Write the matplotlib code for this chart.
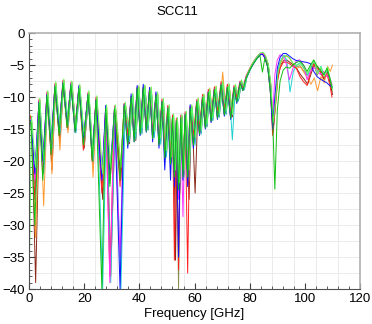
import matplotlib
matplotlib.use("Agg")
import matplotlib.pyplot as plt
from matplotlib.ticker import MultipleLocator

title = "SCC11"
xlabel = "Frequency [GHz]"
xticks = [0, 20, 40, 60, 80, 100, 120]
yticks = [0, -5, -10, -15, -20, -25, -30, -35, -40]

# frequency grid A
freq = [0.0, 0.7, 2.1, 3.6, 5.0, 6.5, 8.0, 9.4, 10.9, 12.3,
        13.8, 15.2, 16.7, 18.1, 19.7, 21.4, 22.9, 24.3, 26.4, 27.8,
        29.3, 31.0, 33.0, 34.5, 35.8, 37.0, 38.1, 39.2, 40.3, 41.4,
        42.5, 43.7, 44.8, 46.0, 47.1, 48.2, 49.2, 50.3, 51.3, 52.0,
        52.7, 53.4, 54.2, 55.0, 55.8, 56.6, 57.5, 58.4, 59.6, 60.8,
        61.8, 62.9, 63.9, 65.0, 66.0, 67.2, 68.3, 69.6, 70.8, 71.9,
        73.1, 74.3, 75.3, 76.5, 77.5, 78.7, 80.0, 81.3, 82.6, 83.7,
        84.6, 85.5, 86.5, 87.4, 88.3, 89.1, 90.0, 91.0, 92.1, 93.2,
        94.4, 95.6, 96.9, 98.2, 99.5, 100.8, 102.0, 103.2, 104.4, 105.6,
        106.8, 108.0, 109.0, 109.8]

# frequency grid B (traces whose ripple is offset)
freq_b = [0.0, 0.9, 2.4, 3.9, 5.3, 6.8, 8.3, 9.7, 11.2, 12.6,
          14.1, 15.5, 17.0, 18.4, 20.0, 21.7, 23.2, 24.6, 26.7, 28.1,
          29.6, 31.3, 33.3, 34.9, 36.4, 37.6, 38.7, 39.8, 40.9, 42.0,
          43.1, 44.3, 45.4, 46.6, 47.7, 48.7, 49.8, 50.8, 51.7, 52.4,
          53.1, 53.8, 54.6, 55.4, 56.2, 57.0, 58.0, 59.0, 60.2, 61.3,
          62.4, 63.4, 64.5, 65.5, 66.6, 67.8, 68.9, 70.2, 71.4, 72.5,
          73.7, 74.8, 75.9, 77.0, 78.0, 79.0, 80.2, 81.5, 82.8, 83.9,
          84.8, 85.7, 86.7, 87.6, 88.5, 89.3, 90.2, 91.2, 92.3, 93.4,
          94.6, 95.8, 97.1, 98.4, 99.7, 101.0, 102.2, 103.4, 104.6, 105.8,
          107.0, 108.2, 109.2, 110.0]

s_blue = [-13.5, -13.8, -22, -10.8, -20, -9.6, -17, -8.3, -15, -7.8,
          -14, -8.0, -15.5, -8.2, -16.5, -9.6, -19, -10.5, -23, -11.3,
          -22, -11.8, -40, -11.2, -18, -9.5, -17, -8.2, -16, -8.0,
          -15.5, -8.5, -17, -9.2, -18, -10.8, -21.4, -11.8, -23, -13.5,
          -24, -14, -35, -13.5, -23, -12.8, -24, -11.2, -18, -10.8,
          -16, -10.2, -15, -9.3, -14, -8.8, -13.5, -8.2, -13, -8.6,
          -13.5, -8.6, -11, -7.8, -9.0, -7.0, -5.8, -4.8, -3.9, -3.4,
          -3.3, -3.9, -5.3, -8.5, -15, -10, -5.5, -3.8, -3.2, -3.2,
          -3.6, -4.0, -4.3, -4.4, -4.5, -4.6, -4.8, -6.0, -6.8, -7.2,
          -7.5, -7.8, -8.2, -8.4]

s_red = [-12.8, -13.3, -26, -10.4, -22, -9.2, -19, -7.9, -16, -7.4,
         -14.8, -7.7, -14.5, -8.5, -18.3, -9.3, -20, -10.0, -25, -11.7,
         -38, -11.4, -24, -11.0, -16, -10.0, -16, -8.6, -15, -8.6,
         -14.5, -8.8, -15.5, -9.6, -16.5, -10.3, -18, -11.3, -19, -12.8,
         -35.5, -13.3, -37, -12.8, -21, -12.3, -37.5, -11.6, -16, -10.4,
         -15, -9.6, -14, -8.8, -13, -8.4, -12.5, -7.6, -12, -8.0,
         -12.5, -8.2, -10, -7.5, -8.6, -6.7, -5.5, -4.5, -3.7, -3.2,
         -3.1, -3.6, -4.8, -7.8, -16, -12, -7.5, -5.5, -4.6, -4.5,
         -4.8, -5.2, -5.5, -6.8, -7.6, -8.2, -6.2, -4.8, -5.5, -6.0,
         -7.0, -6.5, -8.0, -10.0]

s_magenta = [-13.2, -13.6, -23, -10.6, -21, -9.5, -18.5, -8.1, -15.2, -7.6,
             -14.2, -7.9, -15.2, -8.3, -16.8, -9.5, -19.3, -10.3, -23, -11.6,
             -39, -11.6, -35, -11.1, -17.5, -9.9, -16.2, -8.4, -15.3, -8.5,
             -15.2, -8.6, -16.2, -9.4, -17.2, -10.6, -19.5, -11.6, -20.5, -13.2,
             -22, -13.6, -26, -13.1, -28.7, -12.6, -21, -11.4, -17.5, -10.6,
             -16, -9.9, -14.8, -9.1, -13.8, -8.7, -13.2, -7.9, -12.8, -8.3,
             -13.2, -8.4, -10.8, -7.7, -8.9, -6.9, -5.7, -4.7, -3.8, -3.3,
             -3.2, -3.8, -5.2, -9.0, -13.5, -6.5, -4.2, -3.4, -3.6, -4.8,
             -7.3, -5.6, -4.3, -4.2, -5.0, -7.3, -6.0, -5.4, -5.8, -6.5,
             -6.0, -6.8, -7.0, -8.0]

s_cyan = [-13.4, -13.9, -25, -10.7, -22, -9.7, -18, -8.2, -15.8, -7.7,
          -14.6, -8.0, -15.6, -8.6, -17.2, -9.7, -20, -10.4, -40, -11.8,
          -39, -11.7, -40, -11.3, -17, -9.7, -16.6, -8.7, -15.8, -8.6,
          -15.2, -8.9, -16.4, -9.7, -17.4, -10.7, -19.4, -11.7, -20.4, -13.3,
          -22.5, -13.7, -24.5, -13.2, -22.5, -12.7, -23, -11.7, -17.5, -10.7,
          -15.8, -10.0, -14.7, -9.2, -13.7, -8.8, -13.2, -8.0, -12.8, -8.4,
          -16.7, -8.5, -10.6, -7.7, -8.9, -6.9, -5.7, -4.7, -3.9, -3.4,
          -3.3, -3.8, -5.1, -8.2, -14.8, -10.5, -6.0, -4.3, -3.5, -4.2,
          -9.2, -6.0, -5.0, -4.6, -5.5, -6.6, -5.2, -4.4, -6.2, -5.2,
          -6.6, -5.8, -7.2, -8.6]

s_orange = [-12.6, -13.2, -32, -10.3, -27, -9.2, -22, -7.8, -18.3, -7.3,
            -15.6, -7.6, -15, -8.2, -17.5, -9.2, -22.5, -10.0, -24, -11.4,
            -22, -11.4, -21, -10.9, -16.5, -9.6, -16, -8.4, -15.2, -8.2,
            -14.6, -8.5, -15.8, -9.3, -16.8, -10.4, -18.6, -11.4, -19.6, -12.8,
            -21.6, -13.4, -23.6, -12.9, -21.6, -12.4, -21.6, -11.4, -16.6, -10.2,
            -15.2, -9.6, -14.2, -8.6, -13.2, -8.3, -12.8, -6.1, -12.2, -8.0,
            -12.8, -8.2, -10.2, -7.5, -8.6, -6.7, -5.5, -4.5, -3.7, -3.2,
            -3.1, -3.6, -4.9, -7.9, -14.2, -11.5, -6.8, -4.7, -3.8, -3.6,
            -4.0, -4.9, -5.5, -5.3, -6.2, -7.0, -8.0, -7.0, -9.0, -6.8,
            -7.8, -5.2, -6.0, -5.0]

s_brown = [-13.1, -13.4, -39, -10.5, -21.5, -9.3, -21.4, -7.9, -17, -7.4,
           -15, -7.7, -15.3, -8.4, -18, -9.4, -20.5, -10.1, -26, -11.5,
           -38, -11.5, -23, -11.0, -17.3, -9.8, -16.8, -8.5, -15.6, -8.4,
           -15.1, -8.7, -16.1, -9.5, -17.1, -10.5, -19.1, -11.5, -20.1, -13.0,
           -35.5, -13.5, -25, -13.0, -22.1, -12.5, -26, -11.5, -25, -10.5,
           -15.6, -9.8, -14.6, -9.0, -13.6, -8.6, -13.1, -7.8, -12.6, -8.2,
           -13.1, -8.3, -10.6, -7.6, -8.8, -6.8, -5.6, -4.6, -3.8, -3.3,
           -3.2, -3.7, -5.0, -8.1, -15.5, -11.5, -7.0, -5.0, -4.3, -4.2,
           -4.6, -5.0, -5.6, -6.5, -7.2, -8.0, -6.4, -5.0, -5.2, -6.3,
           -7.3, -6.0, -7.8, -9.6]

s_olive = [-13.3, -13.7, -23.5, -10.6, -20.5, -9.5, -17.8, -8.1, -15.4, -7.6,
           -14.4, -7.9, -15.1, -8.5, -17.1, -9.5, -19.6, -10.3, -24.5, -11.6,
           -23.5, -11.6, -22.5, -11.1, -16.8, -9.9, -16.4, -8.6, -15.4, -8.5,
           -15.3, -8.8, -16.3, -9.6, -17.3, -10.6, -19.3, -11.6, -20.3, -13.1,
           -22.3, -13.6, -40, -13.1, -22.3, -12.6, -22.3, -11.6, -17.3, -10.6,
           -15.7, -9.9, -14.7, -9.1, -13.7, -8.7, -13.2, -7.9, -12.7, -8.3,
           -13.2, -8.4, -10.7, -7.7, -8.9, -6.9, -5.7, -4.7, -3.9, -3.4,
           -3.3, -3.8, -5.1, -8.2, -14.6, -11.2, -6.6, -4.6, -3.7, -3.5,
           -3.9, -4.7, -5.3, -5.1, -5.9, -6.6, -5.6, -4.6, -6.6, -5.6,
           -7.1, -5.6, -7.6, -9.1]

s_green = [-13.6, -14.0, -30, -10.9, -23, -9.8, -19, -8.3, -16, -7.8,
           -14.8, -8.1, -15.5, -8.6, -17.5, -9.6, -20, -10.4, -40, -11.8,
           -24, -11.8, -23, -11.3, -17.5, -10.0, -17, -8.6, -15.8, -8.6,
           -15.4, -8.9, -16.5, -9.7, -17.5, -10.7, -19.5, -11.7, -20.5, -13.2,
           -22.5, -13.7, -24.5, -13.2, -22.5, -12.7, -22.5, -11.7, -17.5, -10.7,
           -15.8, -10.0, -14.8, -9.2, -13.8, -8.8, -13.3, -8.0, -12.8, -8.4,
           -13.3, -8.5, -10.8, -7.8, -9.0, -7.0, -5.8, -4.8, -4.0, -3.5,
           -6.1, -3.9, -5.3, -9.0, -13.0, -24.4, -12.0, -7.5, -5.8, -5.3,
           -5.5, -5.0, -4.6, -4.4, -5.0, -6.0, -5.0, -4.2, -5.2, -5.8,
           -6.5, -5.5, -7.0, -8.5]

s_lime = [-40, -13.1, -21, -10.2, -20, -9.0, -17, -7.6, -14.5, -7.2,
          -13.5, -7.5, -14.8, -8.0, -16, -9.0, -19, -9.8, -22, -11.2,
          -21, -11.2, -21, -10.8, -16, -9.4, -15.5, -8.2, -14.8, -8.1,
          -14.4, -8.4, -15.4, -9.2, -16.4, -10.2, -18.4, -11.2, -19.4, -12.6,
          -21.4, -13.2, -23.4, -12.7, -21.4, -12.2, -21.4, -11.2, -16.4, -10.2,
          -15.2, -9.5, -14.2, -8.7, -13.2, -8.3, -12.7, -7.5, -12.2, -7.9,
          -12.7, -8.0, -10.2, -7.3, -8.5, -6.6, -5.4, -4.4, -3.6, -3.1,
          -3.0, -3.5, -4.8, -7.7, -14.0, -10.8, -6.2, -4.4, -3.6, -3.5,
          -4.0, -4.8, -5.0, -4.8, -5.6, -6.3, -5.3, -4.3, -6.3, -5.3,
          -6.8, -5.3, -7.3, -8.8]

series = [s_olive, s_brown, s_orange, s_cyan, s_red, s_magenta, s_blue, s_lime, s_green]
grids = [freq, freq_b, freq_b, freq_b, freq, freq, freq, freq_b, freq]
colors = ["#8c8c50", "#8b2a1a", "#ff9a30", "#20d0d0", "#ff2020", "#ff30ff", "#1010ff", "#60ff60", "#10c010"]

fig = plt.figure(figsize=(3.72, 3.24), dpi=100)
ax = fig.add_axes([0.078, 0.108, 0.890, 0.790])

for fx, s, c in zip(grids, series, colors):
    ax.plot(fx, s, color=c, lw=0.7)

ax.set_xlim(0, 120)
ax.set_ylim(-40, 0)
ax.set_xticks(xticks)
ax.set_yticks(yticks)
ax.xaxis.set_minor_locator(MultipleLocator(4))
ax.yaxis.set_minor_locator(MultipleLocator(1))

# faint background grid
for gx in range(8, 120, 8):
    ax.axvline(gx, color="#e8e8e8", lw=0.6, zorder=0)
for gy in [-37.5, -35, -32.5, -30, -27.5, -25, -22.5, -20, -17.5, -15, -12.5, -10, -7.5, -5, -2.5]:
    ax.axhline(gy, color="#e8e8e8", lw=0.6, zorder=0)

fam = ["Liberation Sans", "DejaVu Sans"]
ax.tick_params(axis="both", which="major", direction="in", length=4, width=0.8,
               labelsize=9.5, pad=3, color="#404040")
ax.tick_params(axis="both", which="minor", direction="in", length=2, width=0.6, color="#404040")
for lab in ax.get_xticklabels() + ax.get_yticklabels():
    lab.set_fontfamily(fam)
ax.tick_params(top=False, right=False)

for side in ["top", "right"]:
    ax.spines[side].set_color("#b0b0b0")
    ax.spines[side].set_linewidth(1.2)
for side in ["left", "bottom"]:
    ax.spines[side].set_color("#505050")
    ax.spines[side].set_linewidth(0.8)

ax.set_xlabel(xlabel, fontsize=9.5, family=fam, labelpad=2)
fig.text(0.476, 0.963, title, ha="center", va="center", fontsize=9.5, family=fam)

fig.savefig("out.png", dpi=100)
